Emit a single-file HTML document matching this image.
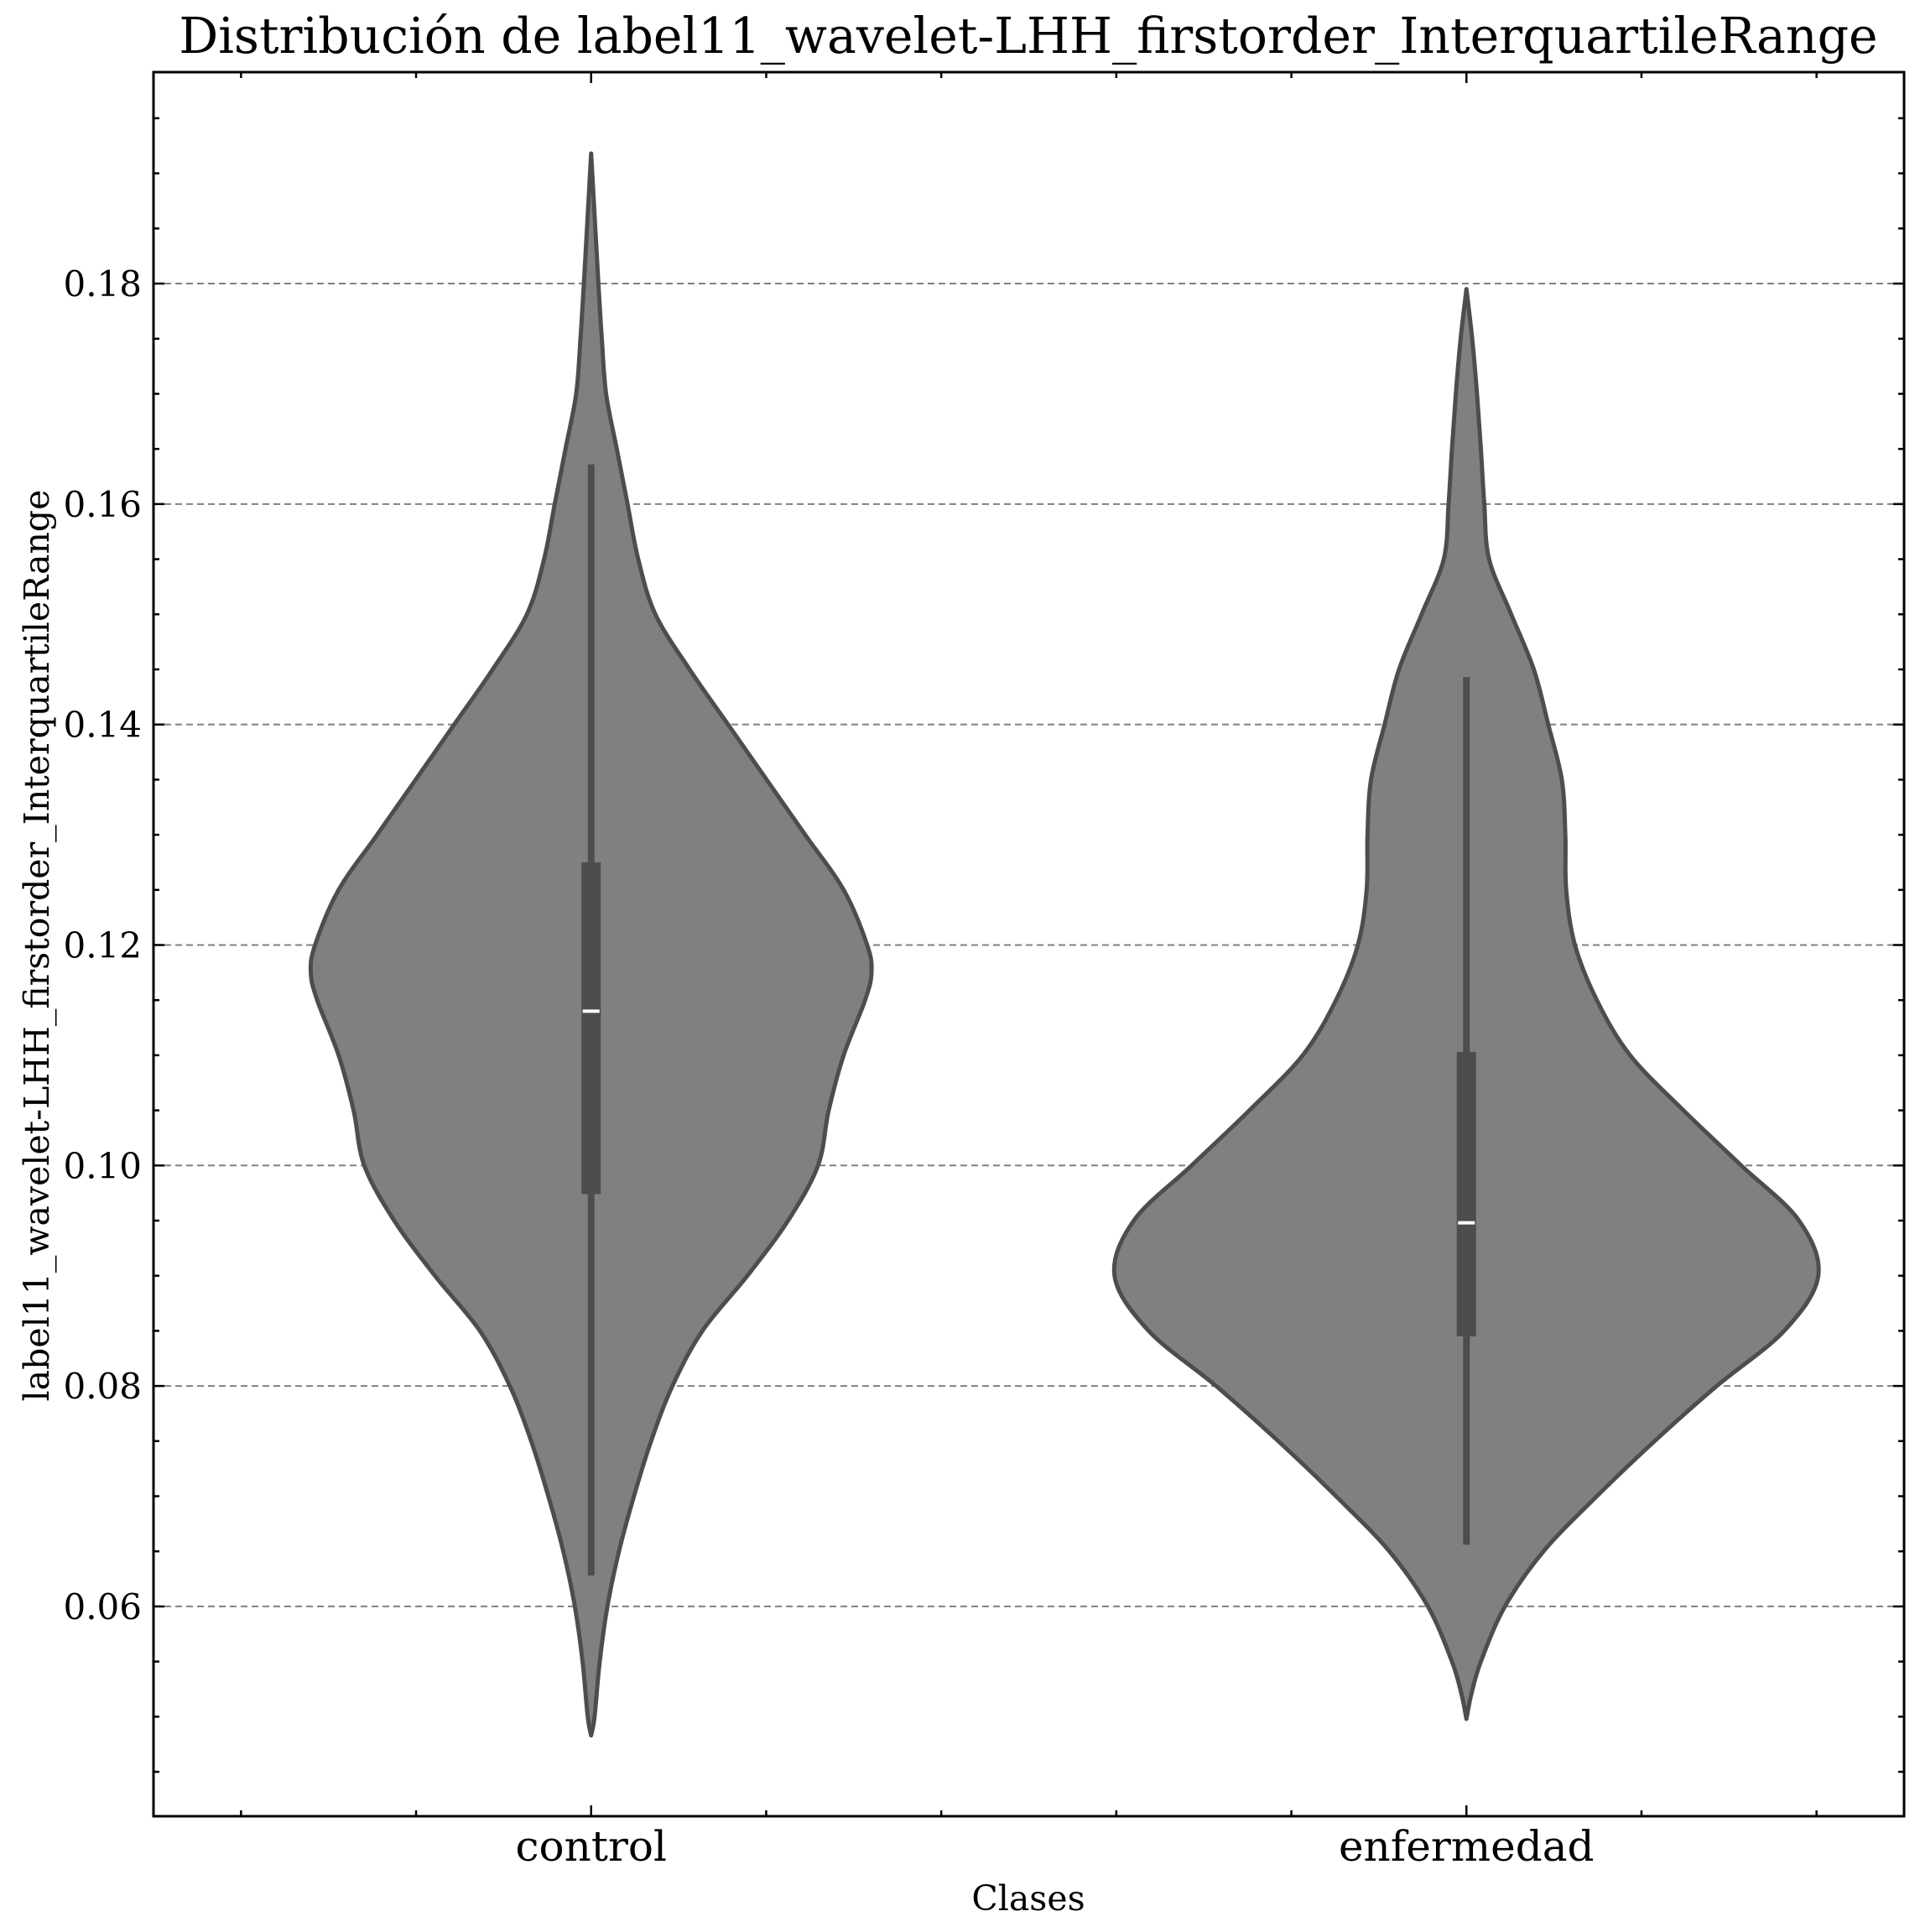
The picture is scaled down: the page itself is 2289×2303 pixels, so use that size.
<!DOCTYPE html>
<html><head><meta charset="utf-8"><style>
html,body{margin:0;padding:0;background:#fff}
svg{display:block}
text{font-family:"DejaVu Serif","Liberation Serif",serif;fill:#000}
</style></head><body>
<svg id="chart" width="2289" height="2303" viewBox="0 0 2289 2303" xmlns="http://www.w3.org/2000/svg">
<text x="1226" y="63" font-size="58.5" text-anchor="middle">Distribución de label11_wavelet-LHH_firstorder_InterquartileRange</text>
<g id="grid"></g>
<g id="violins"></g>
<g id="axes"></g>
<text x="1226" y="2277" font-size="41" text-anchor="middle">Clases</text>
<text transform="translate(58,1127) rotate(-90)" font-size="41" text-anchor="middle">label11_wavelet-LHH_firstorder_InterquartileRange</text>
</svg>
<script>
const categories = ["control", "enfermedad"];
const yTicks = [0.06, 0.08, 0.10, 0.12, 0.14, 0.16, 0.18];
const yTickLabels = ["0.06", "0.08", "0.10", "0.12", "0.14", "0.16", "0.18"];
const controlY = [0.1918,0.18,0.175,0.17,0.165,0.16,0.155,0.15,0.145,0.14,0.135,0.13,0.125,0.12,0.1175,0.115,0.11,0.105,0.10,0.095,0.09,0.085,0.08,0.075,0.07,0.065,0.06,0.055,0.05,0.0483];
const controlW = [0,0.0083,0.0122,0.0171,0.0293,0.0416,0.0538,0.0734,0.1125,0.1565,0.2005,0.2445,0.2885,0.3154,0.3203,0.313,0.2885,0.2714,0.2592,0.225,0.1785,0.1271,0.0929,0.0685,0.0489,0.0318,0.0186,0.0098,0.0039,0];
const enfY = [0.1795,0.175,0.17,0.165,0.16,0.155,0.15,0.145,0.14,0.135,0.13,0.125,0.12,0.115,0.11,0.105,0.10,0.095,0.09,0.085,0.08,0.075,0.07,0.065,0.06,0.055,0.052,0.0498];
const enfW = [0,0.0066,0.0121,0.0165,0.0204,0.0259,0.0512,0.077,0.0935,0.109,0.113,0.114,0.124,0.149,0.187,0.248,0.314,0.380,0.402,0.363,0.286,0.215,0.149,0.088,0.044,0.0165,0.0055,0];
const controlStats = [0.0628, 0.0974, 0.114, 0.1275, 0.1636]; // whisLo, q1, median, q3, whisHi
const enfStats = [0.0656, 0.0845, 0.0948, 0.1103, 0.1443];

const L=183,R=2270,T=86,B=2165;
const X0=-0.5,X1=1.5,Y0=0.04097,Y1=0.19918;
const xs=v=>L+(v-X0)/(X1-X0)*(R-L);
const ys=v=>B-(v-Y0)/(Y1-Y0)*(B-T);
const NS="http://www.w3.org/2000/svg";
function mk(tag,attrs,parent){const e=document.createElementNS(NS,tag);for(const k in attrs)e.setAttribute(k,attrs[k]);parent.appendChild(e);return e;}
const grid=document.getElementById('grid'),vg=document.getElementById('violins'),ax=document.getElementById('axes');

yTicks.forEach((t,i)=>{
  const g=mk('line',{x1:L,x2:R,y1:ys(t),y2:ys(t),stroke:'#808080','stroke-width':2,'stroke-dasharray':'8,5'},grid);
  
  
});

function catmull(pts){
  let d=`M${pts[0][0]},${pts[0][1]}`;
  for(let i=0;i<pts.length-1;i++){
    const p0=pts[Math.max(0,i-1)],p1=pts[i],p2=pts[i+1],p3=pts[Math.min(pts.length-1,i+2)];
    const c1=[p1[0]+(p2[0]-p0[0])/6,p1[1]+(p2[1]-p0[1])/6];
    const c2=[p2[0]-(p3[0]-p1[0])/6,p2[1]-(p3[1]-p1[1])/6];
    d+=` C${c1[0]},${c1[1]} ${c2[0]},${c2[1]} ${p2[0]},${p2[1]}`;
  }
  return d;
}
function violin(ci,Y,W,S,name){
  const right=Y.map((y,i)=>[xs(ci+W[i]),ys(y)]);
  const left=Y.map((y,i)=>[xs(ci-W[i]),ys(y)]).reverse();
  let d=catmull(right)+' '+catmull(left).replace(/^M/,'L')+' Z';
  const p=mk('path',{d:d,fill:'#808080',stroke:'#4d4d4d','stroke-width':5,'stroke-linejoin':'round'},vg);
  
  
  const cx=xs(ci);
  const w=mk('line',{x1:cx,x2:cx,y1:ys(S[0]),y2:ys(S[4]),stroke:'#4d4d4d','stroke-width':8},vg);
  
  
  const b=mk('rect',{x:cx-11.5,y:ys(S[3]),width:23,height:ys(S[1])-ys(S[3]),fill:'#4d4d4d'},vg);
  
  
  const m=mk('line',{x1:cx-10,x2:cx+10,y1:ys(S[2]),y2:ys(S[2]),stroke:'#fff','stroke-width':4},vg);
  
  
}
violin(0,controlY,controlW,controlStats,'control');
violin(1,enfY,enfW,enfStats,'enfermedad');

const fr=mk('rect',{x:L,y:T,width:R-L,height:B-T,fill:'none',stroke:'#000','stroke-width':3},ax);


for(let v=0.045;v<0.1991;v+=0.005){
  const major=yTicks.some(t=>Math.abs(t-v)<1e-6);
  const len=major?13:7;
  const y=ys(v);
  const a=mk('line',{x1:L,x2:L+len,y1:y,y2:y,stroke:'#000','stroke-width':2.5},ax);
  
  
  const b=mk('line',{x1:R,x2:R-len,y1:y,y2:y,stroke:'#000','stroke-width':2.5},ax);
  
  
}
yTicks.forEach((t,i)=>{
  const tx=mk('text',{x:L-14,y:ys(t)+15,'font-size':42,'text-anchor':'end'},ax);
  tx.textContent=yTickLabels[i];
  
  
});
for(let k=-2;k<=7;k++){
  const v=k*0.2;
  const major=Math.abs(v)<1e-6||Math.abs(v-1)<1e-6;
  const len=major?13:7;
  const x=xs(v);
  const a=mk('line',{x1:x,x2:x,y1:B,y2:B-len,stroke:'#000','stroke-width':2.5},ax);
  
  
  const b=mk('line',{x1:x,x2:x,y1:T,y2:T+len,stroke:'#000','stroke-width':2.5},ax);
  
  
}
categories.forEach((c,i)=>{
  const tx=mk('text',{x:xs(i),y:2218,'font-size':50,'text-anchor':'middle'},ax);
  tx.textContent=c;
  
  
});
</script>
</body></html>
